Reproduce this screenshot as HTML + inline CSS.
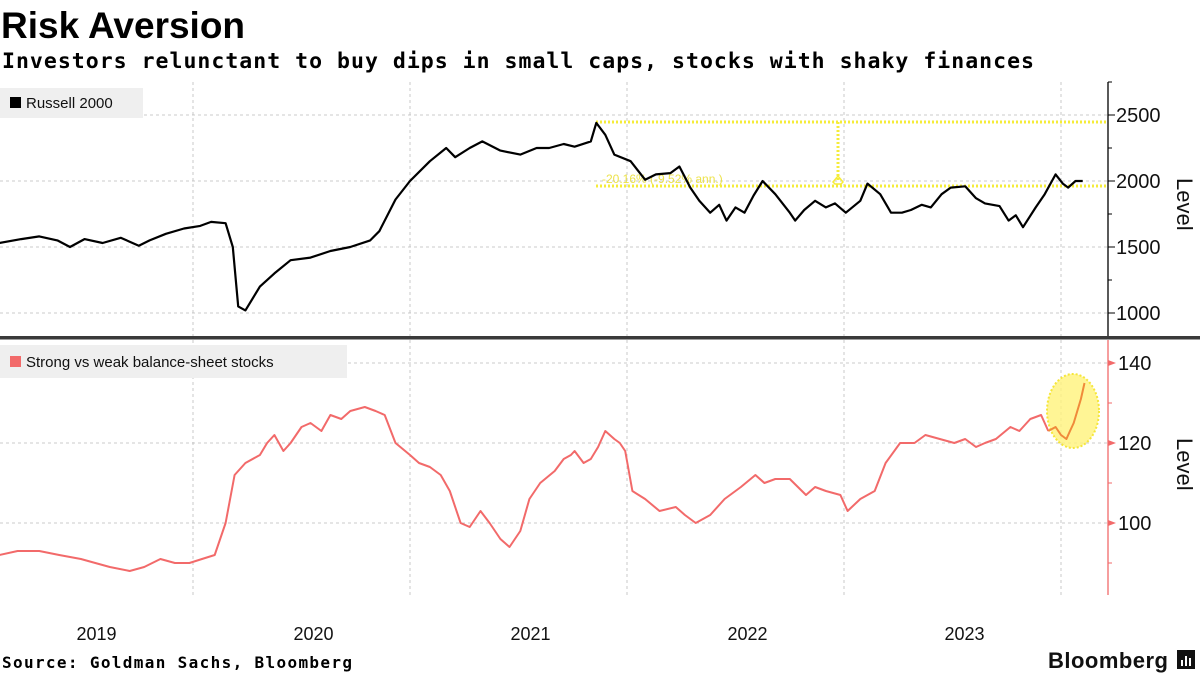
<!DOCTYPE html>
<html><head><meta charset="utf-8"><style>
body{margin:0;width:1200px;height:675px;background:#fff;overflow:hidden;font-family:"Liberation Sans",sans-serif}
</style></head><body>
<svg width="1200" height="675" viewBox="0 0 1200 675">
<text x="1" y="38" font-size="37" font-weight="bold" font-family="Liberation Sans, sans-serif">Risk Aversion</text>
<text x="2" y="68" font-size="21.5" font-weight="bold" font-family="DejaVu Sans Mono, Liberation Mono, monospace" textLength="1032">Investors relunctant to buy dips in small caps, stocks with shaky finances</text>
<g id="grid"></g>
<rect x="0" y="336" width="1200" height="3.5" fill="#3a3a3a"/>
<line x1="1108" y1="82" x2="1108" y2="336" stroke="#000" stroke-width="1.3"/>
<line x1="1108" y1="340" x2="1108" y2="595" stroke="#f26a6a" stroke-width="1.3"/>
<g id="axes"></g>
<g id="annot">
<line x1="596" y1="122" x2="1108" y2="122" stroke="#f5ec3a" stroke-width="3" stroke-dasharray="2,2"/>
<line x1="596" y1="186" x2="1108" y2="186" stroke="#f5ec3a" stroke-width="3" stroke-dasharray="2,2"/>
<line x1="838" y1="122" x2="838" y2="182" stroke="#f5ec3a" stroke-width="3" stroke-dasharray="2,2"/>
<path d="M833 182 L838 176 L843 182 L841 184 L835 184 Z" fill="none" stroke="#f5ec3a" stroke-width="1.5"/>
<text x="602" y="183" font-size="12" fill="#ece24a">-20.16% (-9.52% ann.)</text>
</g>
<ellipse cx="1073" cy="411" rx="26" ry="37" fill="#fff27a" fill-opacity="0.8" stroke="#f5e63a" stroke-width="2" stroke-dasharray="2,2"/>
<g id="series"></g>
<rect x="0" y="88" width="143" height="30" fill="#efefef"/>
<rect x="10" y="97" width="11" height="11" fill="#000"/>
<text x="26" y="108" font-size="15" fill="#111">Russell 2000</text>
<rect x="0" y="345" width="347" height="33" fill="#efefef"/>
<rect x="10" y="356" width="11" height="11" fill="#f26a6a"/>
<text x="26" y="367" font-size="15" fill="#111">Strong vs weak balance-sheet stocks</text>
<text transform="translate(1177,178) rotate(90)" font-size="22" fill="#111">Level</text>
<text transform="translate(1177,438) rotate(90)" font-size="22" fill="#111">Level</text>
<text x="2" y="668" font-size="16" font-weight="bold" font-family="DejaVu Sans Mono, Liberation Mono, monospace" textLength="350">Source: Goldman Sachs, Bloomberg</text>
<text x="1048" y="668" font-size="22" font-weight="bold" fill="#111" textLength="120">Bloomberg</text>
<rect x="1177" y="650" width="18" height="19" fill="#111"/>
<rect x="1181" y="660" width="2" height="6" fill="#fff"/><rect x="1185" y="656" width="2" height="10" fill="#fff"/><rect x="1189" y="658" width="2" height="8" fill="#fff"/>
</svg>
<script>
const rMonths=[1.3,2.5,3.5,4.5,5.2,6,7,8,9,9.6,10.5,11.5,12.4,13,13.8,14.2,14.5,14.9,15.7,16.5,17.4,18.5,19.6,20.7,21.8,22.3,23.2,24,25.1,26,26.5,27.3,28,29,30.1,31,31.7,32.5,33.1,34,34.3,34.8,35.3,36.2,37,37.6,38.4,38.9,39.5,40,40.6,41.1,41.5,42,42.5,43,43.5,44.2,45,45.3,45.8,46.4,47,47.5,48.1,48.9,49.3,50,50.6,51.2,51.7,52.3,52.8,53.4,53.9,54.7,55.3,55.8,56.6,57.1,57.5,57.9,58.6,59.1,59.7,60.1,60.4,60.8,61.2];
const rVals=[1530,1560,1580,1550,1500,1560,1530,1570,1510,1550,1600,1640,1660,1690,1680,1500,1050,1020,1200,1300,1400,1420,1470,1500,1550,1620,1860,2000,2150,2250,2180,2250,2300,2230,2200,2250,2250,2280,2260,2300,2440,2350,2200,2150,2010,2050,2060,2110,1950,1850,1760,1820,1700,1800,1760,1890,2000,1900,1760,1700,1780,1850,1800,1830,1760,1850,1980,1900,1760,1760,1780,1820,1800,1900,1950,1960,1870,1830,1810,1700,1740,1650,1800,1900,2050,1980,1950,2000,2000];
const sMonths=[1.3,2.3,3.5,4.6,5.8,6.6,7.4,8.5,9.3,10.2,11,11.8,12.5,13.2,13.8,14.3,14.9,15.7,16.1,16.5,17,17.4,18,18.5,19.1,19.6,20.2,20.7,21.5,22.1,22.6,23.2,24,24.5,25.1,25.7,26.2,26.8,27.3,27.9,28.4,29,29.5,30.1,30.6,31.2,32,32.5,32.9,33.1,33.6,34,34.4,34.8,35.3,35.6,35.9,36.3,37,37.8,38.7,39.2,39.8,40.6,41.4,42.3,43.1,43.6,44.2,45,45.9,46.4,47,47.8,48.2,48.9,49.7,50.3,51.1,51.9,52.5,53.3,54.1,54.7,55.3,55.8,56.4,57.2,57.7,58.3,58.9,59.3,59.7,60,60.3,60.5,60.7,60.9,61.1,61.3];
const sVals=[92,93,93,92,91,90,89,88,89,91,90,90,91,92,100,112,115,117,120,122,118,120,124,125,123,127,126,128,129,128,127,120,117,115,114,112,108,100,99,103,100,96,94,98,106,110,113,116,117,118,115,116,119,123,121,120,118,108,106,103,104,102,100,102,106,109,112,110,111,111,107,109,108,107,103,106,108,115,120,120,122,121,120,121,119,120,121,124,123,126,127,123,124,122,121,123,125,128,131,135];
const rTicks=[1000,1500,2000,2500];
const sTicks=[100,120,140];
const yearLabels=["2019","2020","2021","2022","2023"];
const NS="http://www.w3.org/2000/svg";
const xM=m=>-24+m*217/12;
const yR=v=>181-(v-2000)*66/500;
const yS=v=>443-(v-120)*4;
function mk(tag,attrs,parent){const e=document.createElementNS(NS,tag);for(const k in attrs)e.setAttribute(k,attrs[k]);parent.appendChild(e);return e;}
const grid=document.getElementById('grid'),axes=document.getElementById('axes'),ser=document.getElementById('series');
rTicks.forEach(v=>{
 const g=mk('line',{x1:0,x2:1108,y1:yR(v),y2:yR(v),stroke:'#bbb','stroke-dasharray':'3,3','stroke-width':0.8},grid);
 
 
 mk('line',{x1:1108,x2:1115,y1:yR(v),y2:yR(v),stroke:'#000'},axes);
 mk('line',{x1:1108,x2:1112,y1:yR(v+250),y2:yR(v+250),stroke:'#000'},axes);
 const t=mk('text',{x:1116,y:yR(v)+7,'font-size':20,fill:'#111'},axes);t.textContent=v;
 
 
});
sTicks.forEach(v=>{
 const g=mk('line',{x1:0,x2:1108,y1:yS(v),y2:yS(v),stroke:'#bbb','stroke-dasharray':'3,3','stroke-width':0.8},grid);
 
 
 mk('path',{d:`M1108 ${yS(v)-3} L1116 ${yS(v)} L1108 ${yS(v)+3}Z`,fill:'#f26a6a'},axes);
 mk('line',{x1:1108,x2:1112,y1:yS(v-10),y2:yS(v-10),stroke:'#f26a6a'},axes);
 const t=mk('text',{x:1118,y:yS(v)+7,'font-size':20,fill:'#111'},axes);t.textContent=v;
 
 
});
yearLabels.forEach((y,i)=>{
 const xb=xM((i+1)*12);
 const g=mk('line',{x1:xb,x2:xb,y1:82,y2:595,stroke:'#bbb','stroke-dasharray':'3,3','stroke-width':0.8},grid);
 
 
 const t=mk('text',{x:xM(i*12+6)+12,y:640,'font-size':18,fill:'#111','text-anchor':'middle'},axes);t.textContent=y;
 
 
});
const rp=mk('polyline',{points:rMonths.map((m,i)=>xM(m).toFixed(1)+','+yR(rVals[i]).toFixed(1)).join(' '),fill:'none',stroke:'#000','stroke-width':2.2,'stroke-linejoin':'round'},ser);


const cut=sMonths.findIndex(m=>m>=59.3);
const sp=mk('polyline',{points:sMonths.slice(0,cut+1).map((m,i)=>xM(m).toFixed(1)+','+yS(sVals[i]).toFixed(1)).join(' '),fill:'none',stroke:'#f26a6a','stroke-width':2,'stroke-linejoin':'round'},ser);


const op=mk('polyline',{points:sMonths.slice(cut).map((m,i)=>xM(m).toFixed(1)+','+yS(sVals[i+cut]).toFixed(1)).join(' '),fill:'none',stroke:'#f08a3a','stroke-width':2,'stroke-linejoin':'round'},ser);


</script>
</body></html>
